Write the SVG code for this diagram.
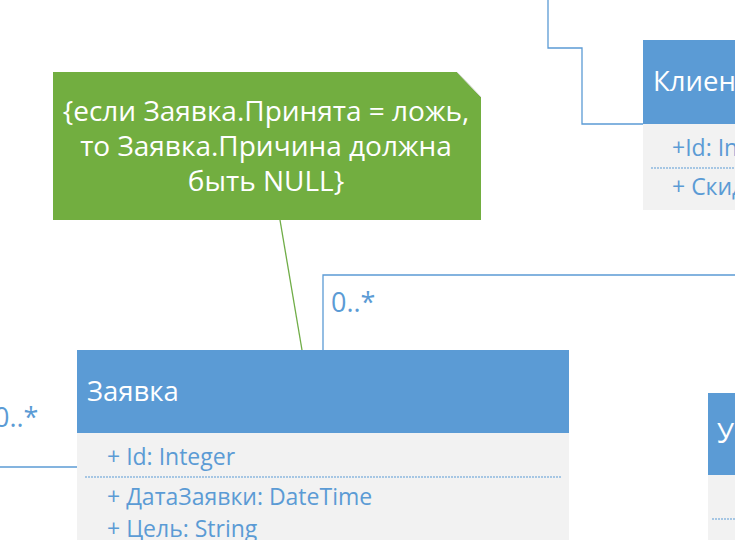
<svg xmlns="http://www.w3.org/2000/svg" width="735" height="540" viewBox="0 0 735 540">
<style>
.hdr{fill:#5B9BD5}
.body{fill:#F2F2F2}
.title{font-family:"Open Sans","Noto Sans","Liberation Sans",sans-serif;font-size:27.5px;fill:#FFFFFF}
.attr{font-family:"Open Sans","Noto Sans","Liberation Sans",sans-serif;font-size:23px;fill:#5B9BD5}
.sep{stroke:#5B9BD5;stroke-width:1;stroke-dasharray:2 1;fill:none}
.conn{stroke:#5B9BD5;stroke-width:1.3;fill:none}
.mult{font-family:"Open Sans","Noto Sans","Liberation Sans",sans-serif;font-size:27px;fill:#5B9BD5}
.note{font-family:"Open Sans","Noto Sans","Liberation Sans",sans-serif;font-size:28px;fill:#FFFFFF;text-anchor:middle}
</style>
<rect width="735" height="540" fill="#FFFFFF"/>
<g id="connectors">
<polyline class="conn" points="548,0 548,48 582,48 582,124 643,124"/>
<polyline class="conn" points="323,350 323,275 735,275"/>
<line class="conn" x1="0" y1="467" x2="77" y2="467"/>
<line x1="280" y1="220" x2="302" y2="350" stroke="#70AD47" stroke-width="1.3"/>
<text class="mult" x="331" y="312">0..*</text>
<text class="mult" x="-6" y="427">0..*</text>
</g>
<g id="note">
<path d="M53,72 H457 L481,97 V220 H53 Z" fill="#72AE40"/>
<path d="M457,72 L481,97" stroke="#D9D9D9" stroke-width="1"/>
<text class="note" x="266" y="121">{если Заявка.Принята = ложь,</text>
<text class="note" x="266" y="156">то Заявка.Причина должна</text>
<text class="note" x="266" y="191">быть NULL}</text>
</g>
<g id="client">
<rect class="hdr" x="643" y="40" width="100" height="84"/>
<rect class="body" x="643" y="124" width="100" height="86"/>
<text class="title" x="653" y="91">Клиент</text>
<text class="attr" x="672" y="156">+Id: Integer</text>
<line class="sep" x1="651" y1="168" x2="735" y2="168"/>
<text class="attr" x="672" y="195">+ Скидка</text>
</g>
<g id="zayavka">
<rect class="hdr" x="77" y="350" width="492" height="83"/>
<rect class="body" x="77" y="433" width="492" height="110"/>
<text class="title" x="87" y="401">Заявка</text>
<text class="attr" x="107" y="465">+ Id: Integer</text>
<line class="sep" x1="85" y1="477" x2="562" y2="477"/>
<text class="attr" x="107" y="505">+ ДатаЗаявки: DateTime</text>
<text class="attr" x="107" y="537">+ Цель: String</text>
</g>
<g id="u-class">
<rect class="hdr" x="708" y="393" width="40" height="82"/>
<rect class="body" x="708" y="475" width="40" height="70"/>
<text class="title" x="717" y="443">У</text>
<line class="sep" x1="712" y1="519" x2="735" y2="519"/>
</g>
</svg>
